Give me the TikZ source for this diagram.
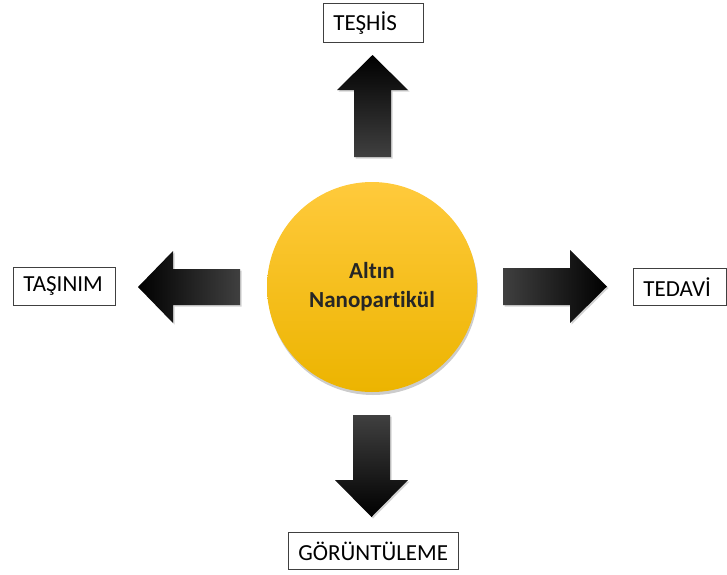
\documentclass[tikz,border=0pt]{standalone}
\usepackage{fontspec}
\setmainfont{Carlito}[Ligatures=NoCommon]
\usetikzlibrary{shadows}
\definecolor{goldtop}{RGB}{255,202,60}
\definecolor{goldmid}{RGB}{255,193,0}
\definecolor{goldbot}{RGB}{236,180,0}
\definecolor{txtdark}{RGB}{38,38,38}
\definecolor{boxline}{RGB}{64,64,64}
\begin{document}
\begin{tikzpicture}[x=1pt,y=-1pt,
  labelbox/.style={draw=boxline, line width=0.9pt, fill=white, anchor=north west,
    inner xsep=10pt, inner ysep=0pt, align=left, text=black,
    font=\fontsize{23}{25}\selectfont},
  blockarrow/.style={drop shadow={opacity=0.35, shadow xshift=1.5pt, shadow yshift=-1.5pt}},
  core/.style={circle, minimum size=210pt, inner sep=0pt,
    top color=goldtop, middle color=goldmid, bottom color=goldbot,
    drop shadow={opacity=0.4, shadow xshift=1pt, shadow yshift=-3pt},
    align=center, text=txtdark, font=\fontsize{23}{29}\selectfont\bfseries}]
\path[use as bounding box] (0,0) rectangle (727,574);

% central circle
\node[core] (np) at (372,287) {Altın\\Nanopartikül};

% label boxes
\node[labelbox, text width=80pt, minimum height=39pt] (teshis) at (323,3) {TEŞHİS};
\node[labelbox, text width=82pt, minimum height=38pt] (tasinim) at (13,267) {TAŞINIM};
\node[labelbox, text width=73pt, minimum height=37pt] (tedavi) at (633,268) {TEDAVİ};
\node[labelbox, text width=150pt, minimum height=37pt] (goruntuleme) at (288,532) {GÖRÜNTÜLEME};

% up arrow
\path[blockarrow, top color=black, middle color=black, bottom color=black!75]
  (354,157) -- (354,90) -- (337,90) -- (372.5,55) -- (408,90) -- (391,90) -- (391,157) -- cycle;
% left arrow
\path[blockarrow, left color=black, middle color=black, right color=black!75]
  (240,269) -- (173,269) -- (173,251) -- (138,287) -- (173,323) -- (173,305) -- (240,305) -- cycle;
% right arrow
\path[blockarrow, left color=black!75, middle color=black, right color=black]
  (503,268) -- (570,268) -- (570,250) -- (607,286.5) -- (570,323) -- (570,305) -- (503,305) -- cycle;
% down arrow
\path[blockarrow, top color=black!75, middle color=black, bottom color=black]
  (353,415) -- (390,415) -- (390,480) -- (408,480) -- (371.5,517) -- (335,480) -- (353,480) -- cycle;
\end{tikzpicture}
\end{document}
